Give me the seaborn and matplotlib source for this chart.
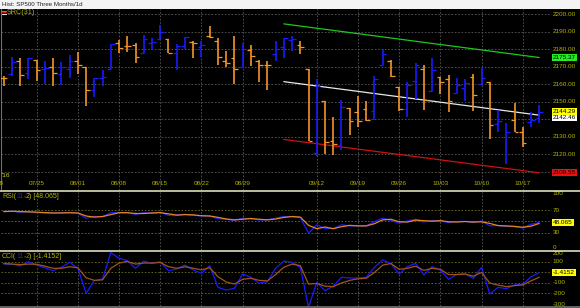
import numpy as np
import pandas as pd
import matplotlib
matplotlib.use("Agg")
import matplotlib.pyplot as plt
import matplotlib.transforms as mtransforms
import seaborn as sns

# ---------------- data ----------------
dates = ["07/19","07/20","07/21","07/22","07/25","07/26","07/27","07/28","07/29",
         "08/01","08/02","08/03","08/04","08/05","08/08","08/09","08/10","08/11","08/12",
         "08/15","08/16","08/17","08/18","08/19","08/22","08/23","08/24","08/25","08/26",
         "08/29","08/30","08/31","09/01","09/02","09/06","09/07","09/08","09/09",
         "09/12","09/13","09/14","09/15","09/16","09/19","09/20","09/21","09/22","09/23",
         "09/26","09/27","09/28","09/29","09/30","10/03","10/04","10/05","10/06","10/07",
         "10/10","10/11","10/12","10/13","10/14","10/17","10/18","10/19"]
opens = [2163.79,2166.10,2173.11,2166.47,2173.71,2168.97,2169.81,2166.05,2168.83,
         2173.15,2169.94,2156.81,2163.51,2168.79,2183.76,2182.24,2182.81,2177.97,2183.74,
         2186.08,2186.24,2177.84,2181.90,2184.24,2181.58,2187.81,2185.09,2173.29,2175.10,
         2170.19,2179.45,2173.56,2171.33,2177.49,2181.61,2185.17,2182.76,2169.08,
         2120.86,2150.47,2127.86,2125.36,2146.48,2143.99,2145.94,2144.58,2170.94,2173.29,
         2158.54,2146.04,2161.85,2168.90,2156.51,2164.33,2163.37,2155.15,2158.22,2164.19,
         2160.39,2161.35,2137.67,2130.26,2139.68,2132.95,2138.31,2140.81]
highs = [2164.63,2175.63,2175.13,2175.11,2173.71,2173.54,2174.98,2172.85,2177.09,
         2178.29,2170.20,2163.79,2168.19,2182.87,2185.44,2187.66,2183.41,2188.45,2186.28,
         2193.81,2186.24,2183.08,2187.03,2185.00,2184.94,2193.42,2186.66,2179.00,2187.94,
         2183.48,2182.27,2173.79,2173.56,2184.87,2186.57,2187.87,2184.94,2169.08,
         2163.30,2150.47,2141.33,2151.31,2146.48,2153.61,2150.80,2165.11,2179.99,2173.75,
         2158.54,2161.13,2172.40,2171.00,2175.30,2164.41,2165.46,2163.95,2162.93,2165.86,
         2169.60,2161.56,2145.36,2138.19,2149.19,2135.70,2144.38,2148.44]
lows = [2159.01,2164.89,2159.23,2163.24,2161.95,2160.18,2159.07,2159.74,2163.49,
        2166.21,2147.58,2152.56,2159.07,2168.79,2177.85,2178.61,2172.00,2177.97,2179.42,
        2186.08,2178.14,2168.50,2180.46,2175.13,2175.96,2186.80,2171.25,2169.74,2160.39,
        2170.19,2170.41,2161.35,2157.09,2173.59,2175.10,2179.07,2177.49,2127.81,
        2119.12,2120.27,2119.90,2122.36,2131.20,2135.91,2139.17,2139.57,2170.94,2163.97,
        2145.04,2141.55,2151.79,2145.20,2156.51,2154.77,2144.01,2155.15,2150.28,2144.85,
        2160.39,2128.84,2132.77,2114.72,2132.98,2124.43,2135.49,2138.15]
closes = [2163.78,2173.02,2165.17,2175.03,2168.48,2169.18,2166.58,2170.06,2173.60,
          2170.84,2157.03,2163.79,2164.25,2182.87,2180.89,2181.74,2175.49,2185.79,2184.05,
          2190.15,2178.15,2182.22,2187.02,2183.87,2182.64,2186.90,2175.44,2172.47,2169.04,
          2180.38,2176.12,2170.95,2170.86,2179.98,2186.48,2186.16,2181.30,2127.81,
          2159.04,2127.02,2125.77,2147.26,2139.16,2139.12,2139.76,2163.12,2177.18,2164.69,
          2146.10,2159.93,2171.37,2151.13,2168.27,2161.20,2150.49,2159.73,2160.77,2153.74,
          2163.66,2136.73,2139.18,2132.55,2132.98,2126.50,2139.60,2144.29]

rsi = [68,69,67,68,66,66,65,66,66,65,56,59,59,66,66,66,63,66,65,67,61,62,63,61,60,60,
       55,54,52,56,55,53,53,56,59,59,57,29,44,37,37,44,42,42,42,50,56,52,47,51,54,49,
       52,51,48,50,50,48,51,42,43,41,41,38,45,48.065]
rsi_sig = [68,68.5,68,67.5,67,66,65.5,65.5,66,65.5,60,58,59,62.5,66,66,64.5,64.5,65.5,
           66,64,61.5,62.5,62,60.5,60,57.5,54.5,53,54,55.5,54,53,54.5,57.5,59,58,43,37,
           40,37,40.5,43,42,42,46,53,54,49.5,49,52.5,51.5,50.5,51.5,49.5,49,50,49,49.5,
           46.5,42.5,42,41,39.5,41.5,46.5]
cci = [81,80,62,103,71,45,17,50,97,40,-198,-78,-62,189,135,113,40,109,87,103,17,33,71,
       24,-8,65,-141,-167,-151,-14,-46,-103,-87,40,109,97,49,-330,-94,-173,-129,-46,
       -52,-52,-46,49,119,87,-14,56,87,-24,56,24,-65,-17,-14,-56,49,-205,-141,-154,
       -119,-113,-40,-1.4152]
cci_sig = [85,80,75,80,78,60,40,40,55,45,-50,-75,-70,40,90,105,80,90,90,95,55,40,55,40,
           25,45,-40,-90,-110,-65,-55,-75,-80,-20,50,80,65,-110,-105,-130,-135,-100,
           -75,-60,-55,0,70,85,30,40,60,20,40,30,-20,-20,-15,-35,0,-100,-120,-135,-125,
           -118,-80,-45]

tick_labels = ["07/25","08/01","08/08","08/15","08/22","08/29","09/12","09/19",
               "09/26","10/03","10/10","10/17"]
price_ticks = [2110,2120,2130,2140,2150,2160,2170,2180,2190,2200]
rsi_ticks = [100,70,30,0]
cci_ticks = [200,100,-100,-200,-300]

chan_idx = [34, 65]
chan_upper = [2194.6, 2175.37]
chan_mid = [2161.6, 2142.46]
chan_lower = [2128.6, 2109.55]

# ---------------- style ----------------
sns.set_style("dark")
plt.rcParams["font.family"] = ["Liberation Sans", "DejaVu Sans"]
W, H = 580, 308
fig = plt.figure(figsize=(W/100, H/100), dpi=100, facecolor="black")

def rect(x0, y0, x1, y1):
    return [x0/W, 1-y1/H, (x1-x0)/W, (y1-y0)/H]

TXT = "#b4b400"
FS = 4.6
BLUE = "#1a1aff"
ORANGE = "#f5962a"
GRID = "#5a5a5a"

x_lo, x_hi = -0.33, 66.43
idx = np.arange(len(dates))
tick_pos = [dates.index(t) for t in tick_labels]

def base_axes(r, ylim):
    ax = fig.add_axes(r)
    ax.set_facecolor("black")
    ax.set_xlim(x_lo, x_hi)
    ax.set_ylim(*ylim)
    ax.set_xticks([]); ax.set_yticks([])
    for s in ax.spines.values():
        s.set_visible(False)
    ax.grid(False)
    for p in tick_pos:
        ax.axvline(p, color=GRID, lw=0.6, ls=(0, (2, 2)), zorder=0)
    return ax

# title bar
fig.patches.append(plt.Rectangle((0, 1-8.5/H), 1, 8.5/H, transform=fig.transFigure,
                                 facecolor="#f4f4f4", edgecolor="none"))
fig.text(1.5/W, 1-4.3/H, "Hist: SP500 Three Months/1d", fontsize=4.4, color="#202020",
         va="center", ha="left")

# ---------------- main panel ----------------
ax = base_axes(rect(1, 9, 551, 190), (2099.7, 2203.1))
for p in price_ticks:
    ax.axhline(p, color=GRID, lw=0.6, ls=(0, (2, 2)), zorder=0)
ax.axvline(x_lo + 0.05, color="#707070", lw=0.8)

df = pd.DataFrame({"i": idx, "o": opens, "h": highs, "l": lows, "c": closes})
df["col"] = np.where(df["c"] >= df["o"], BLUE, ORANGE)
ax.vlines(df["i"], df["l"], df["h"], colors=df["col"], lw=1.2, zorder=3)
ax.hlines(df["o"], df["i"] - 0.45, df["i"], colors=df["col"], lw=0.9, zorder=3)
ax.hlines(df["c"], df["i"], df["i"] + 0.45, colors=df["col"], lw=0.9, zorder=3)

sns.lineplot(x=chan_idx, y=chan_upper, ax=ax, color="#1ec81e", lw=0.9, zorder=2)
sns.lineplot(x=chan_idx, y=chan_mid, ax=ax, color="#e8e8e8", lw=0.9, zorder=2)
sns.lineplot(x=chan_idx, y=chan_lower, ax=ax, color="#d01010", lw=0.9, zorder=2)
ax.set_xlim(x_lo, x_hi); ax.set_ylim(2099.7, 2203.1)
ax.set_xlabel(""); ax.set_ylabel("")

# date labels inside the panel
yb = mtransforms.blended_transform_factory(ax.transData, ax.transAxes)
for p, t in zip(tick_pos, tick_labels):
    ax.text(p, 0.035, t, transform=yb, color=TXT, fontsize=FS, ha="center", va="center")
ax.text(-1, 0.035, "07/18", transform=yb, color=TXT, fontsize=FS, ha="center", va="center",
        clip_on=False)
ax.text(0.001, 0.08, "'16", transform=ax.transAxes, color="#d8d800", fontsize=FS,
        ha="left", va="center")

# right price labels
rb = mtransforms.blended_transform_factory(ax.transAxes, ax.transData)
for p in price_ticks:
    ax.text(1.0036, p, f"{p:.2f}", transform=rb, color=TXT, fontsize=FS, ha="left",
            va="center", clip_on=False)

def box(axx, y, s, fc, tc="black"):
    tr = mtransforms.blended_transform_factory(axx.transAxes, axx.transData)
    axx.text(1.0036, y, s, transform=tr, color=tc, fontsize=FS, ha="left", va="center",
             clip_on=False,
             bbox=dict(boxstyle="square,pad=0.15", fc=fc, ec="none"))

box(ax, chan_upper[-1], f"{chan_upper[-1]:.2f}", "#22ee22")
box(ax, chan_mid[-1] - 1.2, f"{chan_mid[-1]:.2f}", "#ffffff")
box(ax, closes[-1], f"{closes[-1]:.2f}", "#ffff00")
box(ax, chan_lower[-1], f"{chan_lower[-1]:.2f}", "#ee1111")

# SRC legend
for k, c in enumerate(["#22cc22", "#cc1111", "#dddddd"]):
    fig.lines.append(plt.Line2D([2/W, 6/W], [1-(10.5+k*1.8)/H]*2, color=c, lw=0.8,
                                transform=fig.transFigure))
fig.text(6.5/W, 1-13/H, "SRC(31)", color=TXT, fontsize=5.2, ha="left", va="center")

# ---------------- RSI panel ----------------
ax2 = base_axes(rect(1, 192, 551, 250), (-1.8, 103.6))
for v in [70, 50, 30]:
    ax2.axhline(v, color="#6e6e20", lw=0.6, ls=(0, (2, 2)), zorder=0)
sns.lineplot(x=idx, y=rsi, ax=ax2, color=BLUE, lw=0.9)
sns.lineplot(x=idx, y=rsi_sig, ax=ax2, color="#e8861c", lw=0.9)
ax2.set_xlim(x_lo, x_hi); ax2.set_ylim(-1.8, 103.6)
ax2.set_xlabel(""); ax2.set_ylabel("")
rb2 = mtransforms.blended_transform_factory(ax2.transAxes, ax2.transData)
for v in rsi_ticks:
    ax2.text(1.0036, v + (3 if v == 0 else 0), f"{v}", transform=rb2, color=TXT,
             fontsize=FS, ha="left", va="center", clip_on=False)
box(ax2, rsi[-1], f"{rsi[-1]:.3f}", "#ffff00")

# ---------------- CCI panel ----------------
ax3 = base_axes(rect(1, 252, 551, 306), (-319, 195))
for v in [100, 0, -100, -200]:
    ax3.axhline(v, color="#6e6e20", lw=0.6, ls=(0, (2, 2)), zorder=0)
sns.lineplot(x=idx, y=cci, ax=ax3, color=BLUE, lw=0.9)
sns.lineplot(x=idx, y=cci_sig, ax=ax3, color="#a0541c", lw=0.9)
ax3.set_xlim(x_lo, x_hi); ax3.set_ylim(-319, 195)
ax3.set_xlabel(""); ax3.set_ylabel("")
rb3 = mtransforms.blended_transform_factory(ax3.transAxes, ax3.transData)
for v in cci_ticks:
    ax3.text(1.0036, v - (15 if v == 200 else 0), f"{v}", transform=rb3, color=TXT,
             fontsize=FS, ha="left", va="center", clip_on=False)
box(ax3, cci[-1], f"{cci[-1]:.4f}", "#ffff00")

# separators
for yy, c in [(191, "#f0f0c8"), (251, "#f0f0c8"), (307.2, "#808080")]:
    fig.lines.append(plt.Line2D([0, 1], [1-yy/H]*2, color=c, lw=1.1,
                                transform=fig.transFigure))

# multi-colour panel legends
fig.canvas.draw()
renderer = fig.canvas.get_renderer()
def multitext(x_px, y_px, parts, size=5.0):
    x = x_px
    for s, c in parts:
        t = fig.text(x/W, 1-y_px/H, s, color=c, fontsize=size, ha="left", va="center")
        x += t.get_window_extent(renderer=renderer).width

multitext(2, 196, [("RSI(", TXT), ("11", BLUE), (",", TXT), ("2", ORANGE),
                   (") [48.065]", TXT)])
multitext(2, 256, [("CCI(", TXT), ("11", BLUE), (",", TXT), ("2", "#b86a20"),
                   (") [-1.4152]", TXT)])

fig.savefig("out.png", dpi=100, facecolor="black")
